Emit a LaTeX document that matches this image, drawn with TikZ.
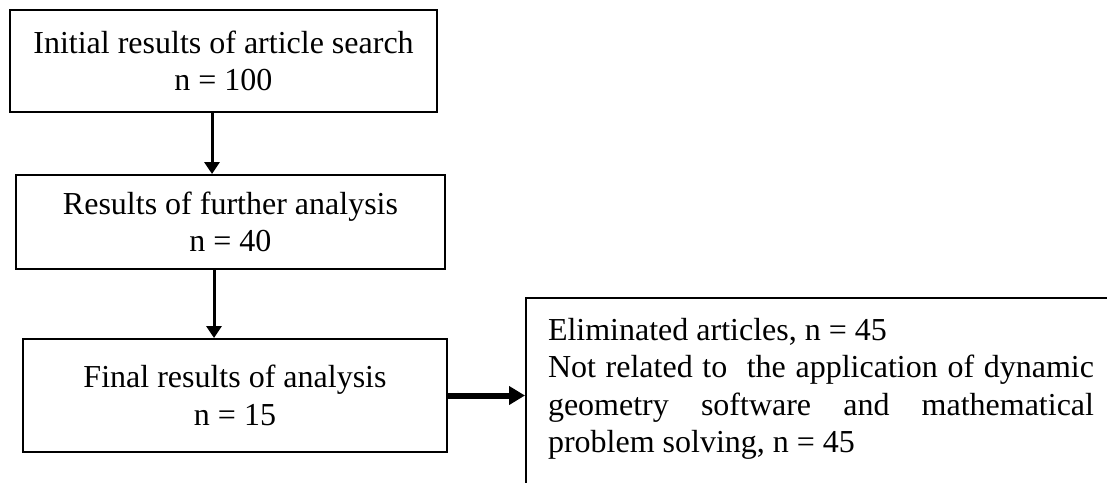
\documentclass[tikz,border=0pt]{standalone}
\usepackage{fontspec}
\setmainfont{Liberation Serif}
\usetikzlibrary{arrows.meta}

\begin{document}
\begin{tikzpicture}[x = 0.5pt, y = -0.5pt,
  stage/.style = {draw, line width = 1pt, align = center, font = \fontsize{16}{18.75}\selectfont},
  flow/.style = {-{Triangle[length = 6pt, width = 7.5pt]}, line width = 1.5pt}]
\useasboundingbox (0,0) rectangle (1107,482);
\node (init) [stage, minimum width = 213.5pt, minimum height = 51pt] at (223.5,61) {Initial results of article search\\ n = 100};
\node (further) [stage, minimum width = 214.5pt, minimum height = 47pt] at (230.5,222) {Results of further analysis\\ n = 40};
\node (final) [stage, minimum width = 212pt, minimum height = 56.5pt] at (235,395.5) {Final results of analysis\\ n = 15};
\node (elim) [stage, align = left, inner xsep = 11pt, inner ysep = 10pt, text depth = 75pt, anchor = north west] at (525,297)
  {\parbox[t]{273pt}{Eliminated articles, n = 45\\ Not related to\ \ the application of dynamic\linebreak geometry software and mathematical\linebreak problem solving, n = 45}\hspace*{20pt}};
\coordinate (a1) at (212,0);
\coordinate (a2) at (214,0);
\draw [flow] (init.south -| a1) -- (further.north -| a1);
\draw [flow] (further.south -| a2) -- (final.north -| a2);
\draw [-{Triangle[length = 8pt, width = 9pt]}, line width = 3pt] (final.east) -- (final.east -| elim.west);
\end{tikzpicture}
\end{document}
